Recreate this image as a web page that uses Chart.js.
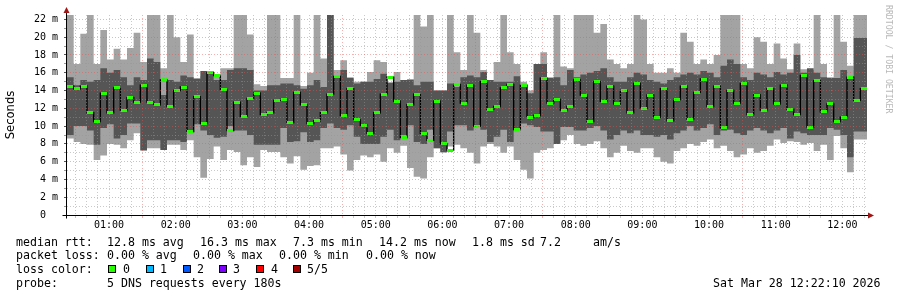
<!DOCTYPE html>
<html>
<head>
<meta charset="utf-8">
<title>SmokePing DNS median rtt</title>
<script src="https://cdn.jsdelivr.net/npm/chart.js@4.4.1/dist/chart.umd.min.js"></script>
<style>
    html, body { margin: 0; padding: 0; background: #fff; }
    #wrap { position: relative; width: 897px; height: 297px; overflow: hidden; background: #fff; }
    #graph { position: absolute; left: 0; top: 0; }
    .leg { position: absolute; font-family: "DejaVu Sans Mono", monospace; font-size: 11.6px; line-height: 14px; color: #000; white-space: pre; }
    .sw { position: absolute; width: 8px; height: 8px; box-sizing: border-box; border: 1px solid #000; }
    #mark { position: absolute; left: 884px; top: 5px; writing-mode: vertical-rl; font-family: "DejaVu Sans Mono", monospace; font-size: 8.2px; color: #b8b8b8; white-space: pre; }
</style>
</head>
<body>
<div id="wrap">
    <canvas id="graph" width="897" height="297"></canvas>

    <span class="leg" style="left:16px;top:235px">median rtt:</span>
    <span class="leg" style="left:107px;top:235px">12.8 ms avg</span>
    <span class="leg" style="left:200px;top:235px">16.3 ms max</span>
    <span class="leg" style="left:293px;top:235px">7.3 ms min</span>
    <span class="leg" style="left:379px;top:235px">14.2 ms now</span>
    <span class="leg" style="left:472px;top:235px">1.8 ms sd</span>
    <span class="leg" style="left:540px;top:235px">7.2</span>
    <span class="leg" style="left:593px;top:235px">am/s</span>

    <span class="leg" style="left:16px;top:248px">packet loss:</span>
    <span class="leg" style="left:107px;top:248px">0.00 % avg</span>
    <span class="leg" style="left:193px;top:248px">0.00 % max</span>
    <span class="leg" style="left:279px;top:248px">0.00 % min</span>
    <span class="leg" style="left:366px;top:248px">0.00 % now</span>

    <span class="leg" style="left:16px;top:262px">loss color:</span>
    <div id="swatches"></div>

    <span class="leg" style="left:16px;top:276px">probe:</span>
    <span class="leg" style="left:107px;top:276px">5 DNS requests every 180s</span>
    <span class="leg" style="left:713px;top:276px">Sat Mar 28 12:22:10 2026</span>

    <span id="mark">RRDTOOL / TOBI OETIKER</span>
</div>
<script>
// 6-minute columns from 00:22:10 to 12:22:10, values in ms
const maxMs = [
    22.5, 22.5, 17, 20.4, 22.5, 17, 20.8, 17.5, 18.7, 17.5,
    18.8, 20.5, 17.2, 22.5, 22.5, 16.5, 22.5, 20, 17.2, 20.3,
    15.4, 15.6, 15.6, 15.6, 16.5, 16.5, 22.5, 22.5, 20.3, 14.7,
    14.5, 22.5, 22.5, 15.4, 15.4, 22.5, 14.5, 16, 22.5, 17.6,
    22.5, 16.3, 17.4, 15.5, 15, 15, 16.1, 17.4, 17.2, 14.8,
    16.1, 15.2, 15.3, 22.5, 21.2, 22.5, 14, 14, 22.5, 18.3,
    16.3, 22.5, 20.5, 16.3, 15.2, 17.2, 22.5, 18.3, 17, 15,
    14, 17, 18.3, 15.5, 22.5, 16.7, 16.5, 22.5, 22.5, 22.5,
    20.5, 21.5, 17.5, 17, 16.5, 17, 22.5, 22, 17, 16,
    16, 16.5, 16, 20.5, 19.5, 17, 17.5, 17, 18, 22.5,
    22.5, 22.5, 17, 16.5, 20, 19.5, 17, 19.3, 17.6, 16.4,
    19.3, 16.4, 16.3, 22.5, 17, 15.5, 22.5, 19.5, 16.8, 22.5
];
const upperMs = [
    16.5, 15.5, 14.6, 15.2, 15.0, 15.2, 16.5, 16, 16.3, 15.5,
    14.6, 15.5, 15.2, 17.6, 17.2, 13.5, 15.2, 15, 15.7, 15.5,
    15.3, 16.2, 16.2, 15.2, 15.2, 16.3, 16.5, 16.5, 16.3, 14,
    14, 14.6, 14.6, 14.8, 14.8, 14.6, 14.2, 14.6, 15.2, 14.4,
    22.5, 15.4, 16.3, 15.4, 14.8, 15, 15, 15.3, 15.9, 14.9,
    15, 15.2, 15.2, 14.6, 15, 15, 14, 14, 14.8, 14.4,
    15.5, 15.7, 15.5, 16.1, 15.2, 15, 15, 15, 15.6, 14.6,
    13.7, 17, 17, 15.4, 15.5, 14.6, 16.3, 15.5, 15.8, 16,
    16.2, 16.5, 15.5, 15, 15, 15.5, 16, 15.8, 15.2, 15,
    14.8, 15.2, 15.5, 15.8, 16, 15.8, 16.2, 16, 15.5, 16.8,
    17.5, 17, 15.5, 15.2, 16, 15.8, 15.5, 16.1, 15.8, 16,
    18, 16, 16.5, 16, 15.5, 15.4, 15.4, 16.3, 15.5, 19.9
];
const medianMs = [
    14.5, 14.2, 14.5, 11.5, 10.5, 13.7, 11.5, 14.3, 11.8, 13.2,
    12.7, 14.6, 12.7, 12.4, 15.2, 12.2, 14, 14.4, 9.4, 13.3,
    10.3, 16, 15.7, 14.1, 9.5, 12.7, 11.1, 13.1, 13.7, 11.3,
    11.5, 12.9, 13, 10.4, 13.8, 12.4, 10.3, 10.6, 11.5, 13.6,
    15.6, 11.2, 14.2, 10.7, 10.1, 9.2, 11.5, 13.6, 15.5, 12.8,
    8.7, 12.4, 13.6, 9.2, 8.4, 12.8, 8.0, 7.3, 14.7, 12.6,
    14.6, 10, 15, 11.9, 12.2, 14.3, 14.7, 9.6, 14.6, 11,
    11.2, 15.4, 12.6, 13, 11.8, 12.2, 15.2, 13.5, 10.5, 15,
    12.8, 14.5, 12.5, 14, 11.5, 14.8, 12, 13.5, 11.0, 14.2,
    10.6, 13, 14.5, 10.8, 13.8, 15.3, 12.2, 14.5, 9.8, 14.0,
    12.6, 14.8, 11.3, 13.5, 11.8, 14.2, 12.5, 14.6, 11.9, 11.3,
    15.7, 9.9, 15.1, 11.6, 12.5, 10.5, 11.0, 15.5, 12.9, 14.2
];
const lowerMs = [
    7.9, 9, 10, 10, 9.5, 7.9, 9.8, 10.2, 8.6, 9,
    10.3, 10.3, 7.3, 8.4, 8.4, 7.3, 8.4, 8.4, 8.2, 9.5,
    10.2, 9.5, 9, 8.7, 8.8, 10, 9.5, 9.5, 9, 7.9,
    7.9, 7.9, 7.9, 9.8, 8.2, 8.3, 9.3, 8.2, 8.4, 9.8,
    10.3, 9.8, 9.6, 10.1, 8.8, 8.0, 8.0, 8.0, 8.8, 9.6,
    8.4, 9.0, 10.1, 8.2, 8.0, 9.6, 7.5, 7.1, 9.4, 10.1,
    10.1, 9.5, 9.9, 9.6, 8.2, 8.8, 9.6, 8.2, 9.6, 10.3,
    10.1, 9.9, 9.4, 9.4, 8.0, 9.9, 9.9, 9.5, 9.5, 9.8,
    10, 9.5, 8.5, 9, 9.5, 9.2, 9.5, 9.0, 9.0, 8.8,
    9.0, 8.5, 9.2, 9.5, 10, 9.5, 9.8, 10.2, 9.0, 9.5,
    9.6, 9.2, 9.0, 9.5, 9.8, 9.5, 9.2, 9.5, 9.8, 8.6,
    9.4, 9.2, 9, 9, 9, 9.8, 9.6, 9.0, 6.5, 9.4
];
const minMs = [
    7.8, 8.6, 8.2, 8.0, 7.9, 6.2, 6.7, 8.0, 7.9, 7.5,
    8.4, 9.2, 7.2, 7.5, 7.5, 7.5, 7.9, 7.9, 7.3, 8.4,
    6.5, 4.2, 6.3, 7.7, 6.2, 7.3, 7.1, 5.6, 6.5, 5.4,
    7.3, 7.1, 7.1, 6.5, 5.8, 6.6, 5.1, 5.5, 5.6, 7.5,
    7.5, 7.7, 6.8, 5.0, 6.2, 6.7, 6.5, 6.8, 6.0, 7.5,
    7.0, 7.8, 5.3, 4.3, 4.1, 6.5, 7.5, 7.0, 7.7, 7.9,
    7.5, 7.0, 5.8, 7.7, 8.0, 7.7, 7.0, 7.7, 6.2, 5.1,
    4.1, 7.0, 7.3, 7.5, 8.0, 8.4, 9.0, 8.0, 7.8, 8.0,
    8.3, 7.5, 6.5, 7.0, 7.8, 7.2, 7.0, 7.5, 7.5, 6.5,
    6.0, 5.8, 7.2, 7.5, 8, 7.8, 8.2, 8.5, 7.5, 7.8,
    7.2, 6.5, 6.8, 7.5, 7.0, 7.2, 7.8, 8.5, 8.1, 8.3,
    8.2, 7.9, 8.1, 7.2, 7.9, 6.2, 8.9, 7.5, 4.8, 8.5
];

const hourLabels = ['01:00', '02:00', '03:00', '04:00', '05:00', '06:00',
                    '07:00', '08:00', '09:00', '10:00', '11:00', '12:00'];
const yTickLabels = ['0  ', '2 m', '4 m', '6 m', '8 m', '10 m', '12 m',
                     '14 m', '16 m', '18 m', '20 m', '22 m'];

const lossColors = ['#26ff00', '#00b8ff', '#0059ff', '#7e00ff', '#ff0000', '#a10000'];
const lossLabels = ['0', '1', '2', '3', '4', '5/5'];

const STEP = 6;          // minutes per column
const SPAN = 720;        // 12 hours on the x axis
const FIRST_GRID = 7 + 50 / 60;  // 00:30 relative to the 00:22:10 start

document.addEventListener('DOMContentLoaded', () => {
    // legend swatches for loss colours
    const swX = [108, 146, 183, 219, 256, 293];
    const lbX = [123, 160, 197, 233, 271, 307];
    const wrap = document.getElementById('wrap');
    lossColors.forEach((c, i) => {
        const box = document.createElement('div');
        box.className = 'sw';
        box.style.left = swX[i] + 'px';
        box.style.top = '265px';
        box.style.background = c;
        wrap.appendChild(box);
        const t = document.createElement('span');
        t.className = 'leg';
        t.style.left = lbX[i] + 'px';
        t.style.top = '262px';
        t.textContent = lossLabels[i];
        wrap.appendChild(t);
    });

    if (typeof Chart === 'undefined') {
        console.error('Chart.js library is not loaded.');
        return;
    }

    const stepSeries = (vals) => {
        const pts = vals.map((v, i) => ({ x: i * STEP, y: v }));
        pts.push({ x: SPAN, y: vals[vals.length - 1] });
        return pts;
    };
    const medianPts = medianMs.map((v, i) => ({ x: i * STEP + STEP / 2, y: v }));

    // small green block used as the median marker
    const marker = document.createElement('canvas');
    marker.width = 6;
    marker.height = 3;
    const mctx = marker.getContext('2d');
    mctx.fillStyle = lossColors[0];
    mctx.fillRect(0, 0, 6, 3);

    const xTicks = [];
    for (let k = 0; FIRST_GRID + 10 * k < SPAN; k++) xTicks.push(FIRST_GRID + 10 * k);
    const yTicks = [];
    for (let v = 0; v <= 22; v++) yTicks.push(v);

    const majorGrid = 'rgba(235, 80, 80, 0.45)';
    const minorGrid = 'rgba(150, 150, 150, 0.5)';
    const lightSmoke = '#a3a3a3';
    const darkSmoke = '#555555';

    const axisPlugin = {
        id: 'rrdAxes',
        afterDraw(chart) {
            const { ctx, chartArea: a } = chart;
            const x0 = Math.round(a.left) - 0.5;
            const y0 = Math.round(a.bottom) + 0.5;
            ctx.save();
            ctx.strokeStyle = '#000';
            ctx.lineWidth = 1;
            ctx.beginPath();
            ctx.moveTo(x0, y0 + 3);
            ctx.lineTo(x0, a.top - 4);
            ctx.moveTo(x0 - 4, y0);
            ctx.lineTo(a.right + 2, y0);
            ctx.stroke();
            ctx.fillStyle = '#a01515';
            ctx.beginPath();
            ctx.moveTo(x0 - 3, a.top - 2);
            ctx.lineTo(x0 + 3, a.top - 2);
            ctx.lineTo(x0, a.top - 8);
            ctx.closePath();
            ctx.fill();
            ctx.beginPath();
            ctx.moveTo(a.right + 1, y0 - 3);
            ctx.lineTo(a.right + 1, y0 + 3);
            ctx.lineTo(a.right + 7, y0);
            ctx.closePath();
            ctx.fill();
            ctx.restore();
        }
    };

    new Chart(document.getElementById('graph'), {
        type: 'line',
        data: {
            datasets: [
                {
                    data: stepSeries(maxMs),
                    stepped: 'after',
                    borderWidth: 0,
                    pointRadius: 0,
                    backgroundColor: lightSmoke,
                    fill: '+1',
                    order: 3,
                },
                {
                    data: stepSeries(minMs),
                    stepped: 'after',
                    borderWidth: 0,
                    pointRadius: 0,
                    fill: false,
                    order: 3,
                },
                {
                    data: stepSeries(upperMs),
                    stepped: 'after',
                    borderWidth: 0,
                    pointRadius: 0,
                    backgroundColor: darkSmoke,
                    fill: '+1',
                    order: 2,
                },
                {
                    data: stepSeries(lowerMs),
                    stepped: 'after',
                    borderWidth: 0,
                    pointRadius: 0,
                    fill: false,
                    order: 2,
                },
                {
                    data: medianPts,
                    stepped: 'middle',
                    borderColor: '#000000',
                    borderWidth: 1.4,
                    pointStyle: marker,
                    pointRadius: 3,
                    fill: false,
                    order: 1,
                },
            ],
        },
        options: {
            responsive: false,
            animation: false,
            devicePixelRatio: 1,
            layout: { padding: { left: 0, right: 30, top: 15, bottom: 62 } },
            plugins: { legend: { display: false }, tooltip: { enabled: false } },
            scales: {
                x: {
                    type: 'linear',
                    min: 0,
                    max: SPAN,
                    afterBuildTicks: (scale) => { scale.ticks = xTicks.map((v) => ({ value: v })); },
                    afterFit: (scale) => { scale.height = 20; },
                    border: { display: false, dash: [1, 2] },
                    grid: {
                        z: 1,
                        color: (c) => (c.index % 6 === 0 ? majorGrid : minorGrid),
                        tickColor: (c) => (c.index % 6 === 0 ? majorGrid : minorGrid),
                        tickLength: 3,
                    },
                    ticks: {
                        autoSkip: false,
                        maxRotation: 0,
                        minRotation: 0,
                        padding: 1,
                        color: '#000',
                        font: { family: 'DejaVu Sans Mono', size: 10 },
                        callback: (value, index) => (index % 6 === 3 ? hourLabels[(index - 3) / 6] : ''),
                    },
                },
                y: {
                    min: 0,
                    max: 22.5,
                    afterBuildTicks: (scale) => { scale.ticks = yTicks.map((v) => ({ value: v })); },
                    afterFit: (scale) => { scale.width = 67; },
                    border: { display: false, dash: [1, 2] },
                    grid: {
                        z: 1,
                        color: (c) => (c.tick.value === 0 ? 'rgba(0,0,0,0)' : (c.tick.value % 2 === 0 ? majorGrid : minorGrid)),
                        tickColor: (c) => (c.tick.value % 2 === 0 ? '#555' : '#999'),
                        tickLength: 3,
                    },
                    ticks: {
                        autoSkip: false,
                        padding: 6,
                        color: '#000',
                        font: { family: 'DejaVu Sans Mono', size: 10 },
                        callback: (value) => (value % 2 === 0 ? yTickLabels[value / 2] : ''),
                    },
                    title: {
                        display: true,
                        text: 'Seconds',
                        color: '#000',
                        font: { family: 'DejaVu Sans', size: 11.6 },
                        padding: { top: 4, bottom: 0 },
                    },
                },
            },
        },
        plugins: [axisPlugin],
    });
});
</script>
</body>
</html>
